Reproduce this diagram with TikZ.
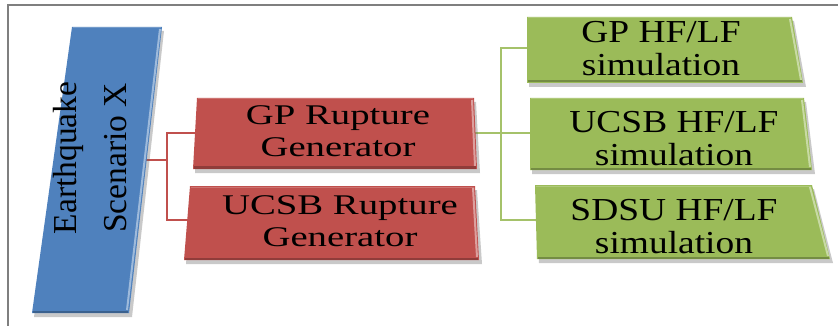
\documentclass[tikz,border=0pt]{standalone}
\usepackage{fontspec}
\setmainfont{Liberation Serif}
\newfontfamily\redfont[FakeStretch=1.36]{Liberation Serif}
\newfontfamily\grnfont[FakeStretch=1.17]{Liberation Serif}
\usetikzlibrary{calc}
\definecolor{boxblue}{HTML}{4F81BD}
\definecolor{boxred}{HTML}{C0504D}
\definecolor{boxgreen}{HTML}{9BBB59}
\definecolor{framegray}{HTML}{7F7F7F}
\newcommand\drawbox[2]{%
  \fill[black!60,opacity=.35] ([shift={(2,4)}]#1-tl) -- ([shift={(2,4)}]#1-tr) -- ([shift={(3,4)}]#1-br) -- ([shift={(2,4)}]#1-bl) -- cycle;
  \fill[#2] (#1-tl) -- (#1-tr) -- (#1-br) -- (#1-bl) -- cycle;
  \draw[#2!55!white, line width=2] ($(#1-tr)+(-2,2)$) -- ($(#1-br)+(-2,-3)$);
  \draw[#2!75!black, line width=2] ($(#1-bl)+(1,-1.5)$) -- ($(#1-br)+(-1,-1.5)$);
  \draw[#2!80!white, line width=1] ($(#1-tl)+(1,1)$) -- ($(#1-tr)+(-1,1)$);
}
\tikzset{
  redline/.style={draw=boxred, line width=2},
  grnline/.style={draw=boxgreen!90!white, line width=2},
  bluetxt/.style={font=\fontsize{33.5}{50}\selectfont, align=center, text=black, inner sep=0},
  redtxt/.style={font=\redfont\fontsize{28.5}{32}\selectfont, align=center, text=black, inner sep=0},
  grntxt/.style={font=\grnfont\fontsize{32}{33}\selectfont, align=center, text=black, inner sep=0},
}
\begin{document}
\begin{tikzpicture}[x=1pt,y=-1pt]
\useasboundingbox (0,0) rectangle (838,326);
\clip (0,0) rectangle (838,326);
\fill[white] (0,0) rectangle (838,326);
\draw[framegray, line width=2] (8,340) -- (8,5) -- (850,5);

% box corners
\coordinate (bl-tl) at (72,27);  \coordinate (bl-tr) at (162,27);
\coordinate (bl-br) at (129,313); \coordinate (bl-bl) at (32,313);
\coordinate (r1-tl) at (197,98); \coordinate (r1-tr) at (474,98);
\coordinate (r1-br) at (477,169); \coordinate (r1-bl) at (193,169);
\coordinate (r2-tl) at (190,186); \coordinate (r2-tr) at (475,186);
\coordinate (r2-br) at (479,260); \coordinate (r2-bl) at (184,260);
\coordinate (g1-tl) at (527,17); \coordinate (g1-tr) at (792,17);
\coordinate (g1-br) at (803,83); \coordinate (g1-bl) at (527,83);
\coordinate (g2-tl) at (530,98); \coordinate (g2-tr) at (804,98);
\coordinate (g2-br) at (812,170); \coordinate (g2-bl) at (530,170);
\coordinate (g3-tl) at (535,185); \coordinate (g3-tr) at (812,185);
\coordinate (g3-br) at (830,259); \coordinate (g3-bl) at (537,259);

% connector ends
\coordinate (blue-out) at (145,160);
\coordinate (rj) at (167,160);
\coordinate (red1-in) at (197,133);
\coordinate (red2-in) at (190,220);
\coordinate (red1-out) at (474,133);
\coordinate (gj) at (501,133);
\coordinate (g1-in) at (529,48);
\coordinate (g2-in) at (532,133);
\coordinate (g3-in) at (538,220);

\draw[redline] (blue-out) -- (rj);
\draw[redline] (red1-in) -| (rj) |- (red2-in);
\draw[grnline] (red1-out) -- (g2-in);
\draw[grnline] (g1-in) -| (gj) |- (g3-in);

\drawbox{bl}{boxblue}
\drawbox{r1}{boxred}
\drawbox{r2}{boxred}
\drawbox{g1}{boxgreen}
\drawbox{g2}{boxgreen}
\drawbox{g3}{boxgreen}

\node[bluetxt, rotate=90] (scen) at (90,158) {Earthquake\\Scenario X};
\node[redtxt] (gprup) at (338,131) {GP Rupture\\Generator};
\node[redtxt] (ucrup) at (340,221) {UCSB Rupture\\Generator};
\node[grntxt] (gpsim) at (661,49) {GP HF/LF\\simulation};
\node[grntxt] (ucsim) at (674,139) {UCSB HF/LF\\simulation};
\node[grntxt] (sdsim) at (674,227) {SDSU HF/LF\\simulation};
\end{tikzpicture}
\end{document}
